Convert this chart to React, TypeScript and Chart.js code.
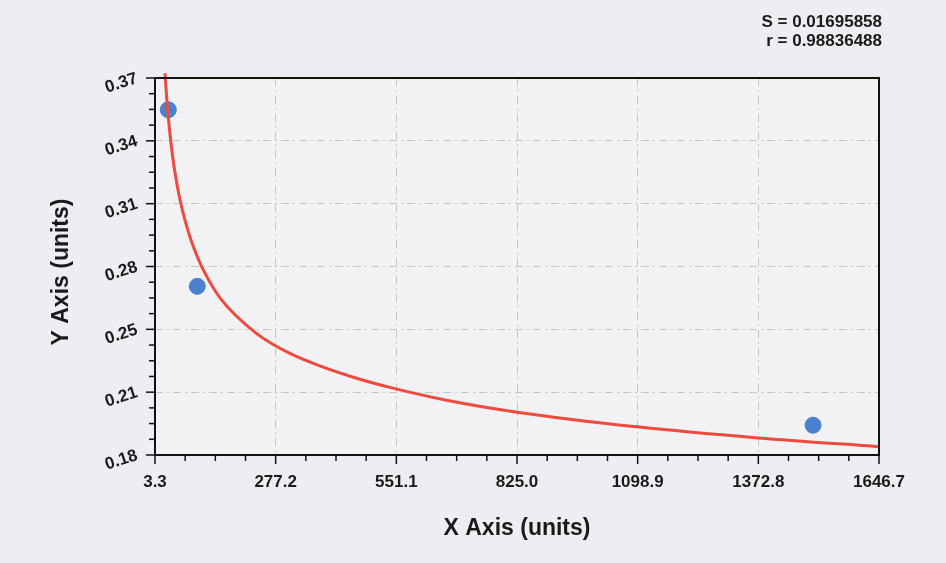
import React, { useEffect, useRef } from "react";
import { Chart, registerables } from "chart.js";

Chart.register(...registerables);

// Axis ticks
const xTickLabels = ["3.3", "277.2", "551.1", "825.0", "1098.9", "1372.8", "1646.7"];
const yTickLabels = ["0.18", "0.21", "0.25", "0.28", "0.31", "0.34", "0.37"];
const xMin = 3.3;
const xMax = 1646.7;
const yMin = 0.18;
const yMax = 0.37;

// Fitted curve
const curveX = [26.0, 32.1, 41.2, 52.5, 65.3, 82.7, 101.6, 112.9, 150.8, 234.1, 309.7, 385.2, 461.0, 536.6, 665.3, 821.8, 1096.4, 1372.4, 1646.3];
const curveY = [0.3724, 0.3535, 0.3341, 0.3172, 0.3035, 0.2899, 0.2788, 0.2733, 0.2592, 0.2412, 0.2312, 0.2243, 0.2187, 0.2141, 0.2076, 0.2017, 0.1942, 0.1886, 0.1842];

// Measured samples
const sampleX = [33.5, 99.3, 1497.0];
const sampleY = [0.354, 0.265, 0.195];

const statLines = ["S = 0.01695858", "r = 0.98836488"];
const xTitle = "X Axis (units)";
const yTitle = "Y Axis (units)";

const FONT = "'Liberation Sans', Arial, sans-serif";

const framePlugin = {
  id: "frame",
  beforeDraw(chart: any) {
    const { ctx, chartArea: a, width, height } = chart;
    ctx.save();
    ctx.fillStyle = "#eeeef2";
    ctx.fillRect(0, 0, width, height);
    ctx.fillStyle = "#f2f2f5";
    ctx.fillRect(a.left, a.top, a.right - a.left, a.bottom - a.top);
    ctx.restore();
  },
  afterDraw(chart: any) {
    const { ctx, chartArea: a } = chart;
    const xs = chart.scales.x;
    const ys = chart.scales.y;
    ctx.save();
    ctx.strokeStyle = "#111";
    ctx.lineWidth = 2;
    ctx.strokeRect(a.left, a.top, a.right - a.left, a.bottom - a.top);
    // ticks (major + 3 minor)
    ctx.lineWidth = 1.5;
    const nx = xTickLabels.length - 1;
    for (let i = 0; i <= nx * 4; i++) {
      const v = xMin + (i * (xMax - xMin)) / (nx * 4);
      const px = xs.getPixelForValue(v);
      const len = i % 4 === 0 ? 9 : 6;
      ctx.beginPath();
      ctx.moveTo(px, a.bottom);
      ctx.lineTo(px, a.bottom + len);
      ctx.stroke();
    }
    const ny = yTickLabels.length - 1;
    for (let i = 0; i <= ny * 4; i++) {
      const v = yMin + (i * (yMax - yMin)) / (ny * 4);
      const py = ys.getPixelForValue(v);
      const len = i % 4 === 0 ? 9 : 6;
      ctx.beginPath();
      ctx.moveTo(a.left, py);
      ctx.lineTo(a.left - len, py);
      ctx.stroke();
    }
    // texts
    ctx.fillStyle = "#1a1a1a";
    ctx.font = `bold 23px ${FONT}`;
    ctx.textAlign = "center";
    ctx.textBaseline = "middle";
    ctx.fillText(xTitle, 517, 529);
    ctx.save();
    ctx.translate(62, 272);
    ctx.rotate(-Math.PI / 2);
    ctx.fillText(yTitle, 0, 0);
    ctx.restore();
    ctx.font = `bold 17px ${FONT}`;
    ctx.textAlign = "right";
    ctx.fillText(statLines[0], 882, 22);
    ctx.fillText(statLines[1], 882, 41);
    ctx.restore();
  },
};

export default function App() {
  const ref = useRef<HTMLCanvasElement>(null);
  useEffect(() => {
    document.body.style.margin = "0";
    const canvas = ref.current!;
    const chart = new Chart(canvas, {
      type: "scatter",
      data: {
        datasets: [
          {
            label: "fit",
            data: curveX.map((x, i) => ({ x, y: curveY[i] })),
            showLine: true,
            borderColor: "#ef4a3e",
            borderWidth: 3,
            pointRadius: 0,
            cubicInterpolationMode: "monotone",
            clip: false as any,
          },
          {
            label: "samples",
            data: sampleX.map((x, i) => ({ x, y: sampleY[i] })),
            backgroundColor: "#4b80cf",
            borderColor: "#4b80cf",
            pointRadius: 8,
            pointHoverRadius: 8,
          },
        ],
      },
      options: {
        animation: false,
        responsive: false,
        events: [],
        layout: { padding: { left: 0, top: 78, right: 67, bottom: 0 } },
        plugins: { legend: { display: false }, tooltip: { enabled: false } },
        scales: {
          x: {
            type: "linear",
            min: xMin,
            max: xMax,
            afterFit: (s: any) => {
              s.height = 108;
            },
            afterBuildTicks: (s: any) => {
              s.ticks = xTickLabels.map((_, i) => ({ value: xMin + (i * (xMax - xMin)) / (xTickLabels.length - 1) }));
            },
            border: { display: false, dash: [8, 4, 2, 4] },
            grid: {
              drawTicks: false,
              color: "#c6c6ca",
              lineWidth: 1,
            },
            ticks: {
              padding: 17,
              color: "#1a1a1a",
              font: { family: FONT, size: 17, weight: "bold" },
              maxRotation: 0,
              minRotation: 0,
              callback: (_v: any, i: number) => xTickLabels[i],
            },
          },
          y: {
            type: "linear",
            min: yMin,
            max: yMax,
            afterFit: (s: any) => {
              s.width = 155;
            },
            afterBuildTicks: (s: any) => {
              s.ticks = yTickLabels.map((_, i) => ({ value: yMin + (i * (yMax - yMin)) / (yTickLabels.length - 1) }));
            },
            border: { display: false, dash: [8, 4, 2, 4] },
            grid: {
              drawTicks: false,
              color: "#c6c6ca",
              lineWidth: 1,
            },
            ticks: {
              padding: 18,
              color: "#1a1a1a",
              font: { family: FONT, size: 17, weight: "bold" },
              minRotation: 18,
              maxRotation: 18,
              callback: (_v: any, i: number) => yTickLabels[i],
            },
          },
        },
      },
      plugins: [framePlugin],
    });
    return () => chart.destroy();
  }, []);
  return <canvas ref={ref} width={946} height={563} style={{ display: "block" }} />;
}
